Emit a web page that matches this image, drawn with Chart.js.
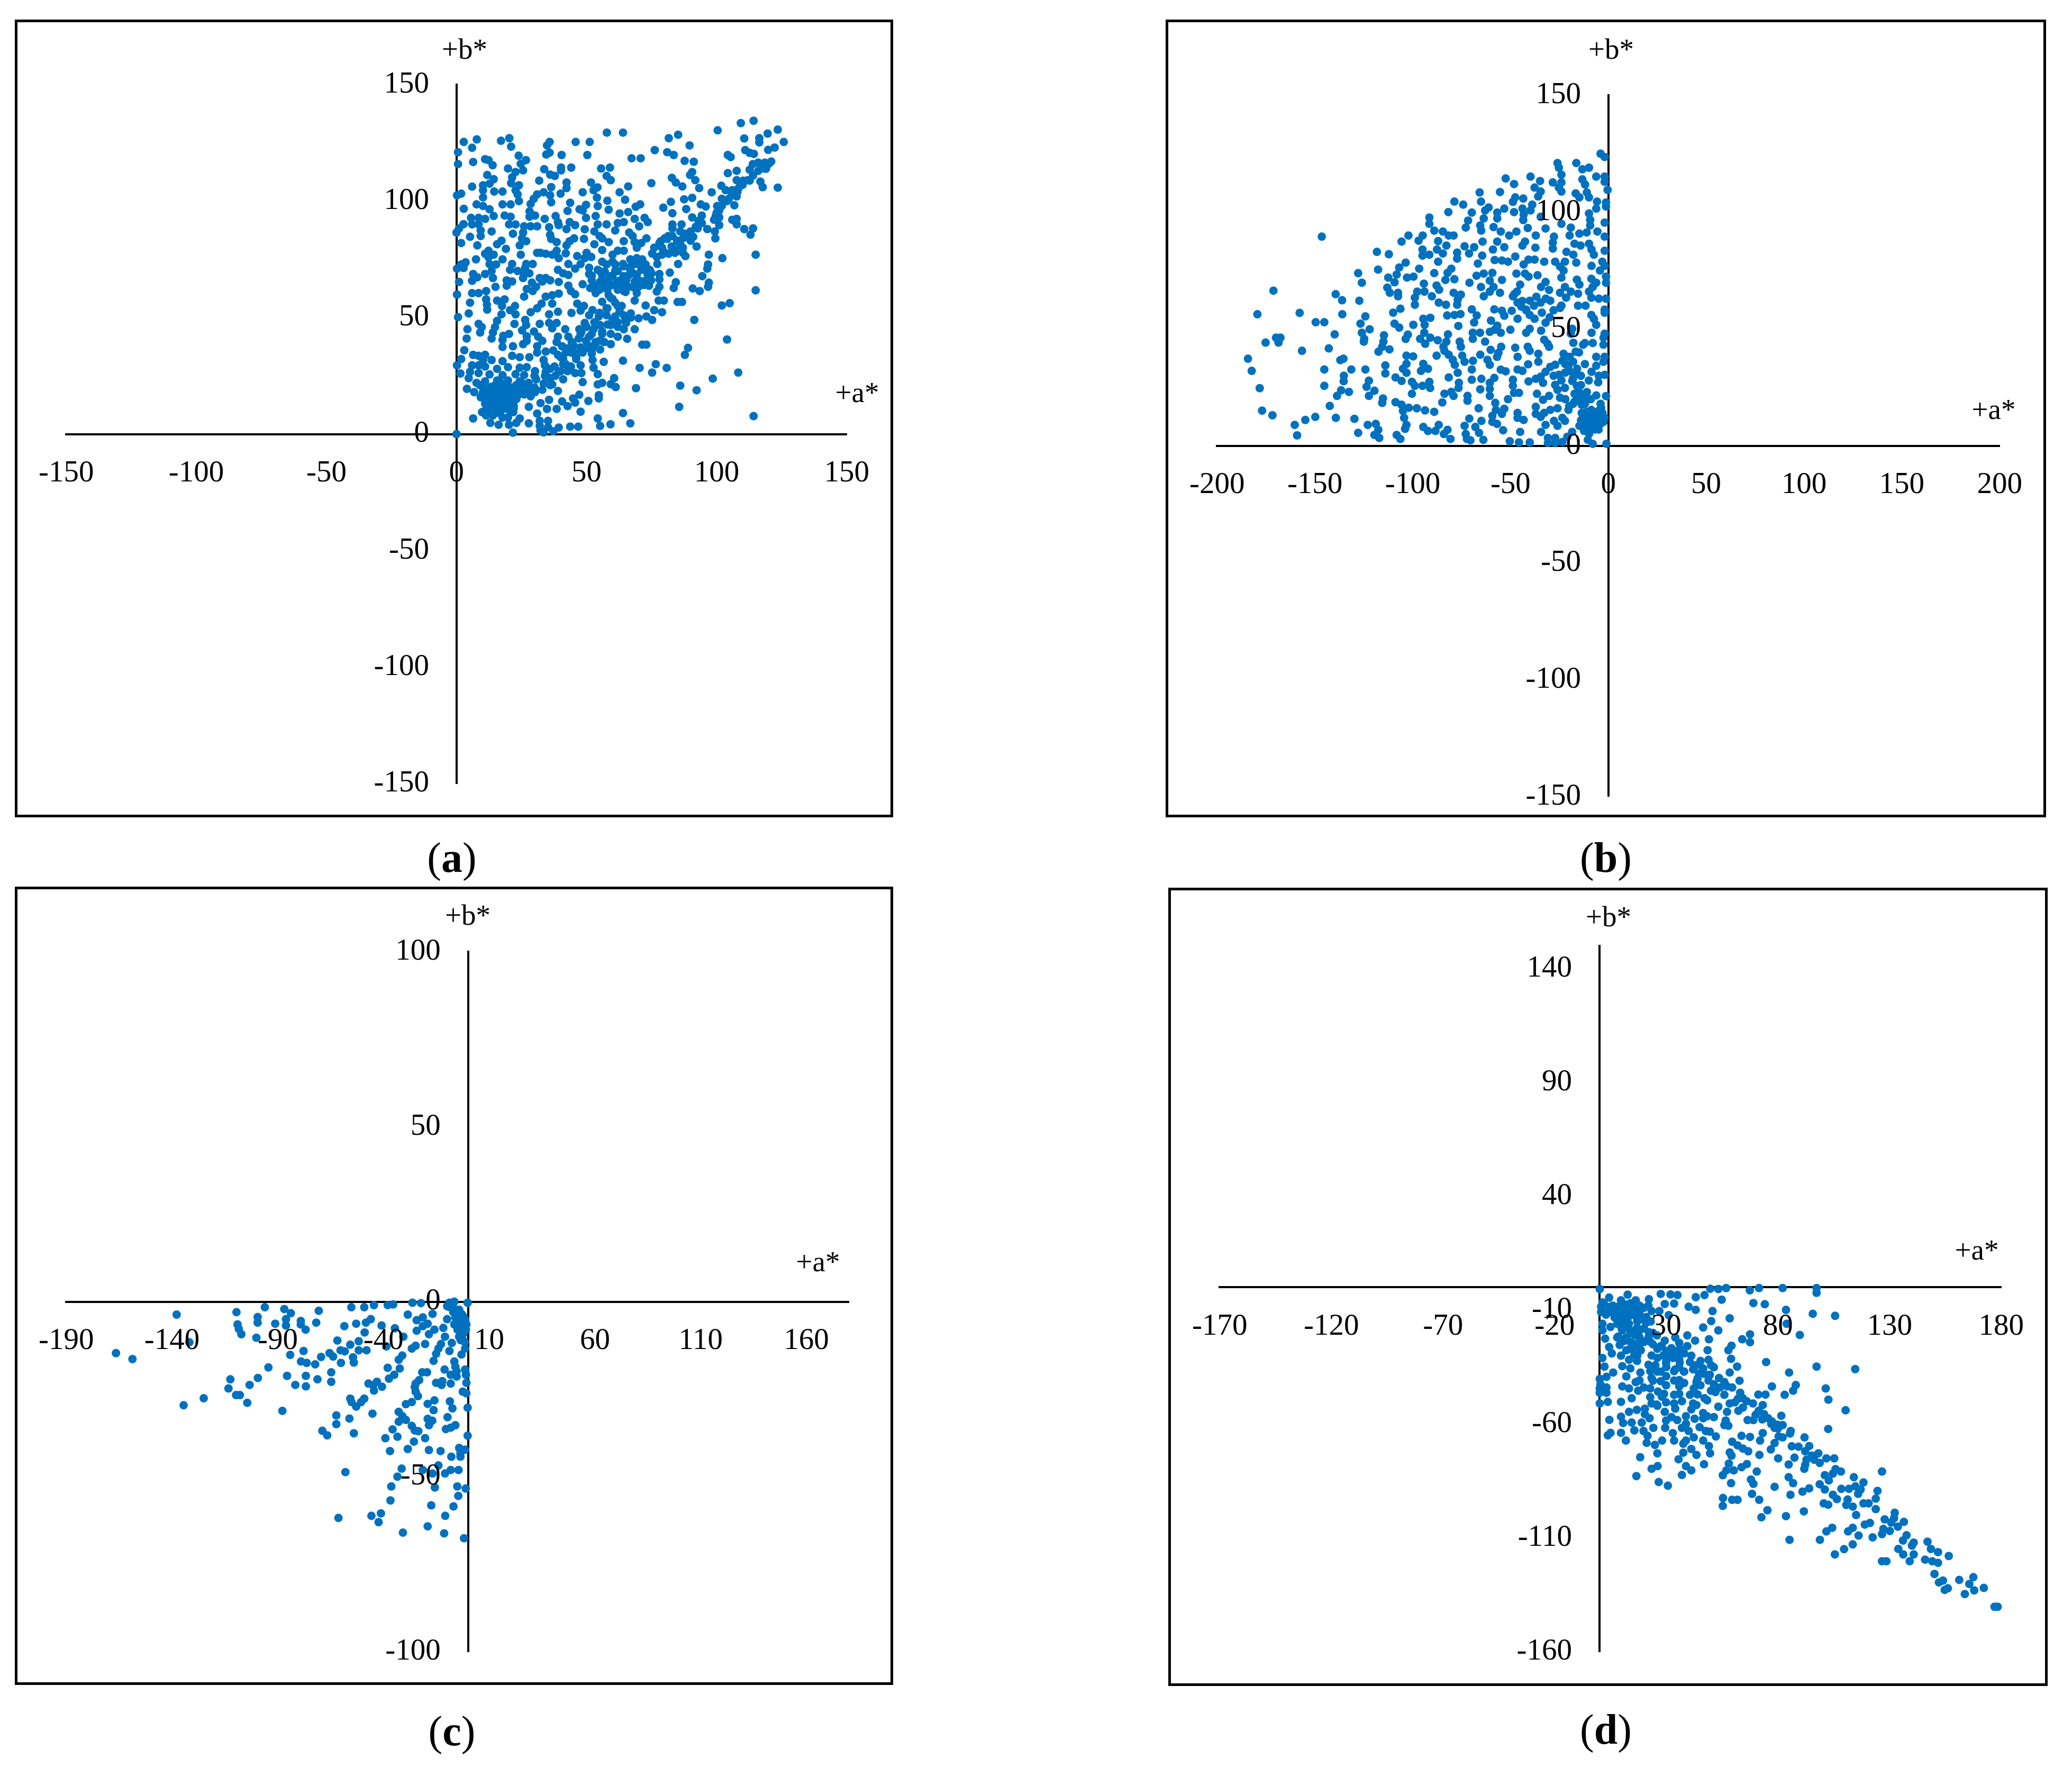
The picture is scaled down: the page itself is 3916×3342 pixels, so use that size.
<!DOCTYPE html>
<html>
<head>
<meta charset="utf-8">
<title>CIELAB a*b* scatter plots</title>
<script src="https://cdn.jsdelivr.net/npm/chart.js@4"></script>
<style>
  html, body { margin: 0; padding: 0; background: #fff; }
  #page { position: relative; width: 3916px; height: 3342px; background: #fff; overflow: hidden; font-family: "Liberation Serif", serif; color: #000; }
  .box { position: absolute; box-sizing: border-box; border: 5px solid #000; }
  canvas { position: absolute; left: 0; top: 0; }
  .lbl { position: absolute; transform: translate(-50%, -50%); white-space: nowrap; line-height: 1; }
</style>
</head>
<body>
<div id="page"></div>
<script>
// Tick labels of each panel
const aXTicks = [-150, -100, -50, 0, 50, 100, 150];
const aYTicks = [150, 100, 50, 0, -50, -100, -150];
const bXTicks = [-200, -150, -100, -50, 0, 50, 100, 150, 200];
const bYTicks = [150, 100, 50, 0, -50, -100, -150];
const cXTicks = [-190, -140, -90, -40, 10, 60, 110, 160];
const cYTicks = [100, 50, 0, -50, -100];
const dXTicks = [-170, -120, -70, -20, 30, 80, 130, 180];
const dYTicks = [140, 90, 40, -10, -60, -110, -160];

// Points as [a*, b*]
const aPoints = [[114.2,134.5],[109.3,133.5],[123.5,130.7],[100.4,130.4],[57.8,129.4],[64,129.4],[119.6,129],[110.6,126.9],[116.4,127],[85.2,128.5],[81.6,127],[7.8,126.5],[2.8,125.4],[20.3,127],[17.1,125.9],[35.8,125.4],[45.8,125.4],[51.2,125.4],[125.8,125.4],[116.4,125.2],[89.6,123.9],[21,123.4],[6,122.9],[34.8,123.9],[76.2,121.9],[122.3,123],[119.8,122],[111,121.9],[81,121],[83.5,119.8],[114.3,120.3],[112.7,120.7],[0.6,121],[35.8,120.8],[34.5,120],[40.4,119.8],[50.3,119.8],[23.9,119.5],[104.3,119.8],[105.4,118.9],[67.3,118.4],[70.8,118.4],[11,118],[12.3,117.6],[26.7,117.6],[87.7,117.3],[91.2,116.9],[6.4,116.8],[0.6,115.9],[121,117],[118.5,116.5],[116,116.5],[113.9,115.9],[13.9,115.4],[24.7,116],[19.8,114],[40.2,114.4],[44.1,114.4],[55.6,114],[59,114.4],[33.7,113.7],[112.7,113.5],[119,113.9],[25.6,113.2],[22.7,112.5],[107.7,113],[40.2,113.2],[104.3,112],[90.6,112.5],[11.8,111.2],[36,111.4],[37.8,110.8],[89.8,111.2],[57.7,110.8],[82.8,110],[21.4,110.2],[14.3,109.4],[59.3,109],[91.8,109],[84.3,108],[31.8,108.8],[42.3,108],[51.7,108],[74.9,107.7],[107.7,109],[110.2,108.8],[112.7,108.8],[116.8,108.4],[21,107.7],[10.2,106.8],[6,106.2],[12.7,107.5],[24,106.8],[86.8,106.3],[66,106.3],[36.4,106],[42.3,105.6],[54.2,105.9],[93.3,105.6],[117.7,106],[123.5,105.8],[101.8,106.6],[108.5,105.7],[10.2,104.7],[14.5,104.1],[17.7,104.1],[22.7,104.7],[31,102.9],[33.5,103.8],[48.5,103.8],[52.7,104.7],[62.7,103.8],[98.1,103.8],[103.5,104.7],[106,104.7],[40,103.2],[1.8,103.2],[0.2,102.5],[36,102.5],[23.5,102.9],[107.7,102],[10.2,101.6],[29.7,101],[54,101.5],[90.6,101.4],[87.5,100.8],[64.8,100.6],[58,100.2],[102,101],[104.7,101],[82.4,99.7],[24,100],[36.4,99.5],[43.7,99.3],[7.7,98.6],[17.7,98.6],[20.8,98.6],[28.5,98.8],[10.2,97.9],[70.6,98.6],[49.8,98.4],[93.9,98.6],[95.8,97.7],[54.3,97.9],[106.8,98.2],[100.2,97.9],[68.9,97.6],[79.5,97.2],[2.8,96.7],[12.7,96.5],[47.3,96.5],[48.5,96],[58.5,96.3],[88.3,96.6],[101,96],[42.7,95.8],[28.1,95.6],[66,95.3],[62.7,94.7],[83,94.8],[99.7,93.8],[14.3,93.6],[18.5,93.8],[20.8,93.3],[30.2,93.8],[38.1,93.6],[28.1,93.3],[49.8,92.8],[53.5,93.6],[90.6,93],[94.3,93.8],[72.3,92.8],[107.7,92.4],[106,92],[68.5,92.4],[5.6,92.8],[8.5,92.8],[11,92.4],[33.9,92.4],[93.1,91.5],
[2.7,90.1],[1,88.3],[0,86.5],[6,90],[8.5,90],[9.3,87.4],[13.5,87],[9.3,85],[5.2,84.7],[20.2,90],[22.7,90],[26,89.2],[28.5,89.2],[31,89.2],[35.6,88.8],[39,91],[39.3,89.7],[42.3,88],[43.5,91],[45.6,89.7],[49.3,87.9],[54.3,90],[57.7,90],[62,90.6],[64.3,91],[73.5,91],[70.2,89.2],[61,87.4],[53,87],[83,90],[86.5,90],[83,88.3],[94.3,90.6],[96.4,88],[101,89.7],[99.3,87],[89.3,86],[86,87],[92.7,88.3],[107.7,90],[110.6,88],[114,88.3],[113,85.6],[81.4,85],[66.4,86.5],[25.6,86.5],[21.7,86],[36,85.5],[55,85],
[78.5,82.8],[81,83.8],[84.8,82.8],[87.2,84.2],[91,84.7],[99.5,84],[45.2,84],[49,83.8],[36.4,83.8],[38.5,82.4],[43.5,82.8],[25.2,84],[26.8,82.8],[17.3,83],[15.6,81.5],[1.8,82],[8,81],[24.3,81],[42.3,81],[53,81.5],[56,84],[58.5,82.4],[64.3,82.8],[67.7,85],[68.5,82.4],[71,82],[73,84],[69.3,80],[79,80],[82.7,80.5],[86,81.5],[92.3,80.5],[19,79.5],[12.3,78.7],[32.3,77.8],[34.3,77.4],[38.5,78.7],[42,77.6],[56,79],[62,78.7],[64.3,78.7],[60,77],[75.2,77.5],[87,77.8],[97,77],[79,77],[81.5,77.4],[84,77.8],[24.7,77],[14.3,77],[11,77.4],[31,77.8],[36.8,77],[50,77.8],[46.4,76.4],
[7.5,75],[12.3,75.9],[115,77],[102.2,75.5],[88,76.4],[17.7,75],[66.8,75],[69.3,75.5],[71.4,75],[39.3,75.5],[49.3,75.5],[51.8,76],[12.7,73],[3.5,73.7],[1.8,72.8],[29.3,73],[26.8,73],[21.4,73],[43,73],[47.7,73],[57.7,72.8],[61,72.8],[64.3,72],[68.5,73],[72.7,72.8],[77.2,73],[85.2,73],[96.7,72.8],[15.2,72.8],[0.2,71],[2.7,71.3],[13.5,70],[20.6,70.5],[23.5,70],[26.4,71.4],[39,70.5],[45.6,71],[51,71.4],[54.3,70.5],[57,69.7],[61,70],[66.8,70.5],[71,70.5],[74.3,70.5],[78,68.7],[96.4,71],[82,69.3],[11,68.7],[26,68.7],[28,69],[6.4,68.7],[41,69],[43,68.3],[51,68.7],[56,68.3],[59.3,67.8],[64.3,67.8],[69.3,68.3],[73.5,68.3],
[14,67],[8,67.3],[6,65.8],[1,65.3],[19.3,66],[21.4,65.5],[25.6,67],[32,67],[34.3,67],[36,66],[39.3,65.3],[52,66],[55.3,65.5],[58.5,66],[61.8,65.5],[65.2,66],[68.5,65.5],[71.8,65.5],[74.8,66],[94.5,67.8],[78,66.4],[84.3,65.2],[97,65],[29,65],[33,65.5],[43,63.7],[48.5,64.3],[19.3,63.7],[15,63.2],[30.6,63.2],[27,62.3],[51.4,62.7],[57.3,63.2],[62,62.7],[66,63.2],[70,63.2],[74,63.7],[78,63.2],[83.5,62.7],[90.8,62.5],[96.7,63.2],[93.5,61.4],[115,61.7],[6,60.5],[11.4,61.4],[8.5,60.5],[0.2,59.9],[29.3,61.4],[39.3,60.3],[44,61.4],[53.5,60.5],[58.5,59.6],[64.3,61.4],[69.3,60.5],[77,61.2],
[26,59],[34.3,59],[36.8,59.6],[45.6,60],[5.2,56.4],[11.4,57.8],[15.6,57.3],[18.5,57.8],[17.5,55],[11.7,55.5],[11.8,53.4],[36.8,56],[32.7,56],[46.4,56],[49,55],[56,56.8],[59.3,58.4],[61,56.4],[68.5,57.3],[72.7,55.2],[77.7,57.3],[79.7,57.3],[85,56.7],[86.7,56.7],[102,55.2],[105,56.2],[22.5,55],[20.6,53.2],[22.7,51.4],[31,54],[28.5,52.3],[35.6,51.4],[39,52.5],[44.2,52],[47.7,53],[52.3,53.2],[57.7,54],[63.5,55],[62.7,52.7],[57.7,51],[67,51.8],[76,53.2],[79,52.3],[4.7,51.8],[0.6,50.2],[17.3,51.4],[51,51],[54.7,50.5],[61,50.5],[64.3,51],[70,49.7],[73,50.5],[75.2,49],[91.4,49],
[15.6,48.6],[26.4,49],[26.8,46.8],[22.3,47.3],[32,47.3],[35.6,47.7],[38.5,47.7],[8.5,47.3],[14.8,45.9],[9.7,45.9],[4.2,45],[36.8,45.4],[49.3,47.7],[47.2,45],[55.2,46.8],[52.7,45],[59.3,46.8],[65.2,47.7],[64.3,45],[68.5,45],[41.8,45],[25.2,44.5],[29.8,44],[9.1,43.6],[14,43.6],[20.2,43],[18,42.2],[27,42],[31.4,41.8],[39,41.8],[43,41.8],[47.7,43],[51,41.8],[56,43],[59.3,43],[62,41.8],[3.9,41],[13.5,41],[17.7,40.4],[27,40],[65.6,40.9],[104,40.6],
[33,40],[38.5,39.5],[44.3,39.5],[49.8,40],[53.5,39.5],[56.8,39.5],[59.3,38.6],[71.4,38.4],[73,38.4],[17.7,37.4],[21.7,37.7],[25.6,38.6],[31,37.7],[40.6,37.7],[42.7,36.8],[47.7,37.2],[51,37.7],[55.2,36.3],[89,37],[3,36],[34.3,35.4],[37.2,35.9],[31,35],[45.2,35],[48.5,35],[52,34.5],[6.4,34],[11,34],[8.5,33.6],[87.8,34],[21.4,33.6],[24.3,33],[28,33],[1.8,32.2],[10.2,31.8],[13.5,31.8],[17.7,31.3],[33.5,31.8],[41,32.2],[46,32.2],[52.3,31.8],[56.6,31],[64,31.5],
[76.6,30],[0.2,29.5],[6,29.5],[8.5,29.5],[11,29],[34,29.5],[37.7,29],[41,30],[47.7,29.5],[19.8,28.7],[24.3,28.5],[27,28.7],[15.6,28],[70.4,28.4],[80.8,28.4],[52.7,28.5],[30.2,27],[39.3,26.7],[42.7,27],[34.3,26.7],[5.2,26.7],[8.5,26.2],[1.5,26],[75.2,26.4],[108.3,26.4],[45.6,26.2],[48,26.2],[54.3,25.7],[12.7,25.6],[17.7,25.3],[22.7,25.7],[26,25.3],[4.7,24],[98.5,23.8],[60.6,24],[30.6,23.5],[36,24],[41,23.5],[15.6,23],[19.8,23],[11,22.6],[7.7,22],[24.3,22.6],[27.7,22],[48.5,22.3],[54.3,21.3],[56,22],[59.3,21.4],[86,20.8],[33.5,21.7],[36.8,21.3],[4,19.4],[13.5,20.3],[17.7,20.3],[22,19.9],[26.4,19.9],[29.3,19.9],[61.2,20.2],[69,19.7],[39,18.5],[92.3,18.8],[6.8,18],[10.2,18],[14.8,17.6],[19,17.6],[22.7,18],[30.2,18],
[54.7,16.7],[54.7,15.3],[47.2,16.9],[9.3,15.8],[12.7,15.3],[17,15.3],[21,15.8],[28.5,16.2],[44.8,15.3],[35.6,14.7],[40.6,14],[50.7,14.2],[32.3,13.3],[11,13],[15.2,13],[19.3,13.5],[21.8,13.5],[45.6,13.5],[42.7,12],[27.8,11.7],[85.6,11.7],[12.2,10.8],[18,10.8],[34.8,10.8],[38.5,10.8],[9.8,9.4],[13.5,9],[21.8,9.4],[16.4,9],[31,8.8],[47.7,9.6],[64,9],[11.4,8],[6.4,6.7],[17.7,7.1],[19.8,7.1],[114.2,7.7],[13,4.8],[24.3,6.7],[54.3,6.7],[23,4.8],[32,5.7],[35.2,5.7],[16.2,4],[20.2,4],[27.8,4.6],[59.2,4.2],[66.8,4.6],[55.2,3.5],[32,3.5],[35.2,3],[39.3,2.8],[43.7,3.2],[46.8,3.2],[32.3,1.6],[33.5,0.7],[37.2,1.2],[21.7,0.6],[0,0],
[9,21],[11,19],[13,20],[15,21],[17,22],[19,21],[21,20],[23,21],[10,17],[12,17],[14,18],[16,18],[18,18],[20,18],[22,17],[24,17],[11,15],[13,16],[15,16],[17,14],[19,15],[21,15],[23,15],[12,13],[14,14],[16,12],[18,12],[20,13],[22,12],[13,11],[15,10],[17,10],[20,10.5],[22,11],[14,8],[11,10],[25,22],[27,20],[28,18],[30,20],[33,19],[24,19],[26,17],
[52,68],[55,70],[58,66],[60,68],[62,70],[64,64],[66,68],[68,63],[70,66],[72,64],[55,62],[58,62],[62,62],[65,61],[67,72],[56,74],[60,74],[64,73],[70,73],[73,70],[75,69],[53,64],[60,64],[63,66],[68,69],
[40,33],[44,35],[48,36],[36,28],[42,30],[46,33],[50,37],[53,38],[56,44],[58,47],[60,49],[62,48],[52,43],[48,44],[54,47],[38,25],[34,25],[30,25],[36,21],[40,27],[44,29],
[76,80],[78,82],[80,84],[83,85],[85,83],[88,86],[90,87],[92,89],[94,91],[90,83],[87,80],[84,79],[80,78],[77,76],[100,95],[102,98],[99,92],[101,93],[104,100],[106,103],[108,104],[110,107],[112,109],[114,111],[118,114],[120,116],[116,113],[60,58],[62,55],[58,54],[55,52],[53,48],[50,46],[47,41],[45,38],[42,35],[39,34],[62,46],[65,49],[67,50],[55,40],[52,36]];

const bPoints = [[-4,125],[-1.9,123.6],[-26,121],[-16.4,121],[-25.3,119],[-9.9,119],[-13.3,118.3],[-24,116],[-39.8,115.2],[-6.2,115.2],[-1.9,115.2],[-52.5,114.4],[-13.3,114],[-1.9,113],[-34.9,113.3],[-28.4,112.7],[-24,112.7],[-48.2,112],[-11.9,111.8],[-37.7,110.5],[-25.3,110.5],[-0.4,109.5],[-24,108.8],[-34.6,108.8],[-65.8,108.4],[-55.4,108.6],[-11,108.4],[-16.7,108],[-35.9,106.7],[-47.6,106.3],[-43.5,105.8],[-14.8,106.3],[-9.9,106.3],[-65.1,104.5],[-48.8,104.4],[-78.7,104.5],[-5.8,104.5],[-74.2,103.2],[-1.2,104.1],[-38.9,103.2],[-61.2,102],[-1.2,102.4],[-6.2,101.5],[-43.9,101.5],[-53.2,101.5],[-39.8,100.7],[-63,100.7],[-69.8,99.8],[-48.2,100],[-81.8,100],[-56.8,99.8],[-9.9,99.4],[-56.8,97.3],[-43.3,99],[-91.5,97.7],[-34.6,98],[-63.7,97.3],[-43.5,96.6],[-71.7,96.4],[-9.3,96.7],[-1.9,95.5],[-91.5,95],[-24,95],[-65.5,94.3],[-9.3,94.3],[-72.9,93.4],[-58.7,93.6],[-41.2,93.2],[-32.1,93],[-19.2,93.4],[-65,92.1],[-89,92.1],[-84.6,91.7],[-47,91.7],[-55,91.7],[-14.8,90.8],[-11.1,91.3],[-5.6,91.7],[-79.1,90],[-81.6,90],[-102.2,90],[-94.9,90],[-50.7,90],[-37.1,90],[-146.5,89.5],[-19.8,90],[-1.9,89.5],[-87,87.6],[-97,87.8],[-27.8,89.5],[-105.7,87.4],[-64.3,87.4],[-56.8,87.4],[-42.6,87.4],[-28.4,87],[-17.3,86.5],[-9.9,86.5],[-82.8,85.7],[-73.5,85.4],[-68.6,85],[-53.2,85],[-37.3,84.8],[-43.9,85.7],[-14.2,85.7],[-28.4,84.4],[-95,84],[-87.6,84],[-77.3,82.7],[-59,84],[-71.2,82.3],[-21.4,83],[-8.6,84],[-1.9,83.5],[-118.3,83],[-112.2,82],[-95,81.4],[-91.5,81.8],[-84.6,82.3],[-64.5,81.4],[-17.9,81.8],[-7.4,81.8],[-77.3,80.1],[-58.1,79.5],[-54.4,79.3],[-51.3,78.8],[-47.6,81],[-40.8,79.7],[-37.7,79.7],[-32.8,78.8],[-27.2,78.8],[-22.2,78.8],[-3.1,78.8],[-103.6,78.4],[-87,78.8],[-66.7,78],[-16.4,78.4],[-43.3,77.6],[-8.6,77],[-24.7,76.7],[-1.9,77],[-106.9,76.3],[-96.7,75.8],[-80.3,75.8],[-117.7,75.4],[-4.3,75],[-22.9,75],[-59.3,74],[-89,73.9],[-127.9,73.9],[-47,73.7],[-82.2,74],[-42.6,73.7],[-108.2,73.3],[-36.2,73],[-40.8,72.4],[-63.7,73.7],[-67.4,72.8],[-112.5,72],[-102.9,72],[-99.6,72.4],[-1.2,72.4],[-24,72],[-78.7,71.3],[-54.4,71],[-8.7,71.5],[-16.1,71.1],[-83.3,71],[-126,69.8],[-109.3,70],[-71,69.8],[-60.6,70.7],[-1.2,69.8],[-32.1,70.1],[-94.3,69.4],[-6.2,69.8],[-45.1,69],[-87.8,68.6],[-14.8,69],[-65.1,68],[-58.7,68],[-113,67.7],[-34.4,68],[-22.2,68],[-8,68],[-171.2,66.4],[-86.5,66.8],[-97.7,66],[-60.6,66],[-111.7,65.5],[-107.5,65.5],[-94,66],[-46.7,66],[-30.3,66.7],[-24.7,65.5],[-19.2,66],[-9.9,66],[-79.1,65.5],[-75.4,64.7],[-55.4,65.5],[-139.4,64.9],[-90.2,64],[-63.7,64],[-48.8,64],[-36.8,63.8],[-107.5,64],[-98.9,63.4],[-15.5,65.1],[-21.6,63.4],[-4.9,63],[-1.2,63],[-127.3,62.1],[-136.1,62.3],[-77,62.6],[-40.2,62.1],[-29.7,62.1],[-8.7,63.4],[-86.7,61.3],[-83,60.4],[-98.9,60.4],[-77.3,60.4],[-46.4,61.3],[-34.6,61.3],[-15.5,60],[-11.7,60],[-44.5,59.6],[-24.7,59],[-69.8,58.4],[-58.3,58.4],[-54.4,57.8],[-49.4,57.8],[-42,58.3],[-106.3,58.7],[-1.9,58.3],[-157.8,56.9],[-110,57],[-179.4,56.3],[-136,56.3],[-40.2,56],[-82.4,55.8],[-78.7,56],[-75.6,56.4],[-67.3,55.8],[-53.2,55.7],[-46.4,54.4],[-1.9,57],[-124.2,55.4],[-91,54.8],[-94.6,54.4],[-37.7,54.4],[-8.7,56],[-7.4,54.4],[-149.6,52.9],[-145.2,52.9],[-68.6,52.8],[-60,53.6],[-126.7,52.3],[-109.3,52.3],[-32.1,52.7],[-99.7,51.8],[-93.9,51.8],[-6.2,51.8],[-56.8,51.4],[-76.7,51.3],[-106.9,50.6],[-40.2,50.1],[-50.1,49.7],[-34.4,49.3],[-58.1,49.7],[-18.5,50.1],[-122,49.9],[-60.6,48.8],[-69.3,48.4],[-65.6,48.4],[-94.1,48.4],[-42,48.4],[-1.9,48],[-126,48.4],[-55,48.4],[-114.7,47.3],[-102.5,47.6],[-139.9,47.7],[-82,47.7],[-169.9,46.3],[-167.6,46.3],[-8.6,48.4],[-19.2,48],[-103.6,45.8],[-96.2,45.8],[-91,46.3],[-69.3,45.8],[-63,44.6],[-32.8,45.4],[-124.8,45.8],[-2.5,46.3],[-175.2,44.2],[-168.6,44.2],[-125,44.6],[-87.2,45.2],[-82.8,44.6],[-76,44.6],[-93.6,43.7],[-115,44.6],[-17.9,44.1],[-12.9,43.3],[-8,44],[-2.5,43.3],[-31.1,43.7],[-115.6,42.4],[-75.4,42.4],[-84.3,42.4],[-142.9,41.7],[-30.3,42.4],[-54.8,42.4],[-111.9,41.3],[-47.6,42],[-41.2,42.4],[-156.6,40.7],[-60.2,41.1],[-117.5,40.3],[-83.8,40.7],[-56.2,39.8],[-40.2,40.7],[-16.7,40.3],[-22.9,39.4],[-35.8,39.4],[-103.2,38.6],[-99.8,38.3],[-87.8,38.6],[-81.6,39],[-74.7,38.6],[-65.5,39],[-46.4,38.1],[-19.8,38.1],[-6.2,38.1],[-1.9,38.1],[-184.2,37.3],[-135.4,37.3],[-137,36.7],[-79.5,36.8],[-61.8,36.8],[-56.9,38.1],[-73.5,36],[-69.2,36.4],[-35.8,36],[-23.5,36.4],[-2.5,36],[-103.2,35.1],[-94.6,35.1],[-78.5,34.7],[-60.6,34.7],[-41,34.9],[-27.2,34.7],[-6.2,34.3],[-20.4,34.3],[-114,34.4],[-182.3,32.1],[-145.2,32.7],[-131.4,32.7],[-124.2,32.7],[-105,33],[-92.2,33],[-69.8,32.7],[-55,32.6],[-52.5,31.9],[-46.4,32.7],[-43.9,32.1],[-29.7,33.8],[-114,31],[-95.8,32.1],[-103.2,31.3],[-77,31.3],[-32.1,31.7],[-22.2,31.3],[-8.6,31.7],[-16.1,30.8],[-1.9,30.4],[-135.2,30],[-108.8,29.3],[-81.6,29.3],[-64.9,28.7],[-58.3,29.1],[-34.6,29.6],[-25.3,30.4],[-4.9,30],[-105.7,27.8],[-122.4,27.9],[-69.8,28.3],[-48.8,28.3],[-100.4,27.4],[-91.5,27.4],[-40.8,27.6],[-37.1,28.7],[-18.5,27.8],[-135.3,27.7],[-60.6,27],[-5.2,27.2],[-76.4,27],[-33.4,27],[-145.2,25.7],[-27.2,26.1],[-123.6,25.3],[-48.8,25.7],[-98.9,25.7],[-95,25.7],[-91.1,24.8],[-76.6,24.8],[-178.2,24.7],[-65.5,24.2],[-60.6,24.4],[-22.2,24.8],[-16.1,25.7],[-119.6,23.6],[-136.6,23.8],[-132.6,23.1],[-100.4,22.3],[-80.3,23.1],[-83.8,22.3],[-48.2,22.7],[-45.7,22.7],[-36.5,22.3],[-17.3,22.3],[-12.4,21.9],[-1.2,21.3],[-6.2,21.6],[-138.7,21.4],[-122.4,21.4],[-79.1,21.4],[-72,21.4],[-60.6,21.4],[-30.3,21.4],[-24.7,20.6],[-115.2,20.3],[-72,19.3],[-51.3,20],[-33.4,19.7],[-115.6,18.4],[-17.3,18.9],[-108.8,18.7],[-84.9,18.6],[-57.8,18.4],[-13.6,17.6],[-37.1,16.7],[-142.4,17.1],[-105.7,17.6],[-29.7,15.4],[-26,16.1],[-20.4,15.4],[-8.7,15.4],[-3.7,16.3],[-102,16.3],[-97.9,16.1],[-93.7,15.2],[-89,14.6],[-66.3,16.1],[-53.2,15.9],[-57.5,15.4],[-177,15.1],[-105,15],[-46.4,14.1],[-37.1,13.7],[-32.8,14.1],[-13.6,14.1],[-11.1,14.6],[-7.4,14.1],[-3.7,14.6],[-54.4,13.7],[-171.7,13.1],[-149.8,12.4],[-154.9,11.1],[-139.3,12],[-129.8,11.6],[-104.4,12],[-59.3,12.9],[-71.1,11.7],[-46.4,12],[-43.3,11.1],[-34.6,12.4],[-12.4,12],[-8.7,12.4],[-5,12.4],[-23.5,12],[-64.9,10.7],[-59.3,10.3],[-27.8,10.7],[-22.2,10.7],[-11.1,10.3],[-6.2,10.3],[-2.5,10.3],[-160.3,9],[-123,9],[-118.9,9.4],[-103.2,9],[-94.6,8.1],[-86.7,9],[-73.5,8.6],[-68,8.1],[-56.9,9.4],[-32.1,9],[-14.8,8.6],[-8.7,8.1],[-4.9,9],[-26,8.6],[-117.6,6.9],[-103.9,7.3],[-92.2,6.4],[-88.4,6.4],[-82.2,6.9],[-53.8,6.7],[-45.1,6],[-34.4,6],[-12.4,6.4],[-18.5,6],[-127.9,5.6],[-108.2,4.7],[-84.1,5.1],[-72.9,5.1],[-66.1,5.6],[-159.1,4.5],[-9.9,5.1],[-119.6,4.7],[-117.1,3.4],[-106.3,3],[-80.7,3],[-72.3,3],[-70.5,2.4],[-63.9,2.6],[-30.9,3.4],[-27.2,3.4],[-21,3.9],[-50.4,2],[-45.7,1.5],[-40.2,1.5],[-30.9,1.3],[-27.2,1.3],[-23.5,1.7],[-10.5,2.6],[-8,0.9],[-1,0.9],
[-12,9],[-10,10],[-8,9.5],[-6,9],[-4,9.5],[-12,12],[-10,13],[-8,12],[-6,13],[-4,12],[-3,14],[-14,11],[-9,14],[-5,15],[-2,12],[-10,7],[-7,7],[-5,7],[-18,18],[-16,20],[-15,23],[-14,26],[-12,18],[-20,17],[-22,20],[-18,29],[-11,23],[-9,20],[-13,20],[-4,18],
[-15,40],[-12,35],[-18,36],[-20,32],[-14,30],[-10,28],[-26,24],[-24,28],[-28,30],[-22,35],[-12,44],[-16,33],[-30,55],[-34,57],[-38,60],[-42,58],[-28,58],[-24,60],[-44,62],[-48,65],[-32,63]];

const cPoints = [[-137.8,-3.7],[-109.5,-3],[-96.1,-1.6],[-86.9,-2.1],[-83.8,-3.3],[-70.6,-2.6],[-55.2,-1.6],[-49.1,-1.6],[-44.5,-1],[-38,-1],[-35.4,-0.8],[-26.3,-0.3],[-22.3,-0.4],[-8.8,-0.3],[-6.5,0],[-0.2,-0.3],[-9.9,-1.3],[-7.1,-1.5],[-4.2,-2.3],[-6,-2.8],[-16.8,-3.5],[-28.5,-3.7],[-3.1,-3.5],[-99.5,-4.4],[-99.5,-6],[-46,-5],[-86.1,-5],[-21.4,-4.5],[-24.3,-5.3],[-9.9,-5],[-4.2,-4.8],[-1.4,-5],[-79.1,-5.5],[-71.8,-6],[-48.3,-6],[-91.2,-6.3],[-86.1,-6.8],[-52.9,-6.3],[-19.1,-6.3],[-109,-6.5],[-3.1,-6],[-0.8,-6.5],[-79.1,-6.5],[-40.9,-6.8],[-58.5,-7],[-21.4,-7],[-11.7,-7.5],[-108.4,-7.8],[-76.8,-8],[-34.6,-7.6],[-48.9,-8.8],[-24.3,-8.3],[-15.9,-8],[-4.2,-7.6],[-1.4,-7.8],[-107.2,-9.3],[-18.5,-9.3],[-2.5,-9.3],[-30.6,-10],[-100.1,-10.3],[-10.9,-10],[-4.2,-10],[-61.8,-11.1],[-131.8,-11.6],[-51.7,-11.3],[-2.5,-11.1],[-20.3,-12.1],[-55.7,-12.3],[-12.8,-12.1],[-24.8,-12.6],[-38.6,-12.8],[-7.7,-11.8],[-26.6,-13.4],[-14,-13.4],[-51.7,-13.9],[-48,-13.9],[-60.3,-13.9],[-166.5,-14.7],[-158.7,-16.4],[-77.8,-14.1],[-58.3,-14.2],[-1.4,-13.4],[-8.8,-14.1],[-65.5,-14.7],[-84.1,-15.2],[-15.1,-14.9],[-3.1,-15.1],[-31.1,-15.4],[-54.4,-15.9],[-69.5,-15.8],[-63.8,-15.7],[-16.3,-16.9],[-32.8,-16.6],[-6.5,-17.1],[-79,-17.1],[-76.3,-17.5],[-54,-17.4],[-72.3,-17.9],[-60.1,-17.5],[-6,-18.6],[-94.4,-18.8],[-38,-18.9],[-32.3,-19.1],[-11.1,-19.4],[-1.4,-19.4],[-64.7,-20.2],[-21.7,-20.2],[-19.4,-20.2],[-5.4,-19.9],[-1,-20.9],[-34.9,-20.9],[-5.4,-21.4],[-85.6,-21.2],[-76.7,-21.2],[-8.2,-20.9],[-99.4,-21.8],[-37.4,-22],[-71.2,-22.2],[-112.4,-22.2],[-23.1,-22.4],[-64.7,-22.9],[-15.1,-23.2],[-12.2,-22.7],[-12.5,-23.8],[-43.1,-22.9],[-47.1,-23.4],[-24.8,-23.4],[-8.2,-23.4],[-0.8,-23.2],[-103.3,-23.8],[-81.7,-23.8],[-76.7,-24.2],[-44.9,-23.9],[-40.7,-24.3],[-25.2,-24.4],[-113.3,-24.8],[-44.5,-25.4],[-24.8,-25.7],[-2.5,-25.7],[-0.8,-26.2],[-109.7,-26.7],[-107.9,-26.7],[-23.7,-27],[-125,-27.6],[-55.7,-27.7],[-49.1,-27.7],[-15.9,-28.2],[-8.6,-28.5],[-26.6,-28.7],[-55.1,-28.7],[-50.6,-28.7],[-104.4,-28.9],[-29.4,-29.3],[-19.1,-29.2],[-134.5,-29.6],[-52.9,-30],[-7.4,-30.5],[-0.2,-30.3],[-16.3,-31],[-87.8,-31.2],[-32.8,-31.5],[-45.2,-32],[-62.3,-32.5],[-9.7,-33],[-31.1,-32.7],[-19.1,-33.5],[-56.1,-33.4],[-29.4,-33.8],[-16.9,-34],[-32.8,-34.3],[-62.3,-35],[-18.5,-35.3],[-6,-35.3],[-26.6,-35.5],[-8.2,-36],[-10.5,-36.4],[-35.7,-36.5],[-68.9,-36.9],[-25.2,-36.8],[-23.5,-37],[-54,-37.6],[-66.6,-38.2],[-0.2,-38.3],[-33.4,-38.6],[-39.1,-39],[-20.3,-39],[-25.6,-40],[-4.2,-41.8],[-1.4,-42.3],[-28.5,-42.1],[-18.5,-42.4],[-13,-42.7],[-36.9,-42.7],[-3.6,-43.3],[-7.9,-44.3],[-3.6,-44.3],[-14,-46.8],[-31.4,-47.7],[-21.4,-48.1],[-8.2,-48.1],[-4.5,-48.1],[-58,-48.7],[-10.9,-49.1],[-16.8,-49.1],[-33.4,-50],[-5.1,-52.8],[-36.3,-52.8],[-15.7,-53.1],[-1.1,-53.4],[-4.6,-55.5],[-36.7,-56.8],[-17.4,-58.2],[-6.9,-58.5],[-41.2,-60.5],[-45.7,-61.2],[-10.8,-61.2],[-61.3,-61.8],[-42.3,-63],[-19.1,-64.2],[-30.8,-66],[-11.3,-66.2],[-1.9,-67.6],
[-9,-1.5],[-7,-3],[-6,-4.5],[-5,-3.5],[-3,-5],[-2,-7],[-4,-6.5],[-5,-8],[-2,-9],[-3.5,-11],[-1.5,-11.5],[-4.5,-5.5],[-2.5,-4],[-1,-8],[-6.5,-6.5]];

const dPoints = [[0.2,-0.7],[49.7,-0.6],[53.3,-0.7],[56.8,-0.3],[67.4,-1.3],[71.5,-0.3],[82.1,-0.3],[97.3,-0.3],[97.3,-2.4],[27.5,-2.9],[31.9,-3.1],[35,-3.4],[12.7,-3.2],[47.1,-3.4],[43.2,-4.3],[4.4,-4.5],[22.2,-5.2],[54.8,-5.4],[9.7,-5.7],[16.3,-5.7],[1.4,-6.6],[69,-6.9],[74.1,-7.4],[29.3,-7.3],[33.5,-7.1],[12.1,-7.6],[0.8,-8.5],[5,-8.5],[18,-8],[8.5,-8.5],[40,-8.5],[83.6,-9.9],[43.2,-9.9],[50.7,-10.4],[14.5,-9.4],[23.4,-10.4],[26.9,-10.4],[0.8,-10.8],[3.8,-10.4],[10.3,-10.8],[18,-10.8],[95.6,-11.6],[105.6,-12.5],[31.1,-12.2],[12.7,-12.7],[6.8,-13.2],[58.4,-13.6],[16.9,-13.6],[50.1,-14.8],[83.9,-16],[9.7,-15],[21,-15.5],[1.4,-16],[13.3,-16],[5,-17.4],[46.5,-17.6],[16.9,-17.8],[1.4,-18.8],[10.3,-18.8],[53.3,-18.9],[22.2,-19.7],[13.9,-20.2],[89.8,-20.9],[67.5,-20.6],[39.4,-21.1],[25.8,-21.1],[8.5,-21.6],[18,-22],[2.6,-22.5],[64,-22.8],[49.1,-22.8],[42.9,-23.4],[11.5,-23.4],[29.3,-23.4],[22.8,-23.9],[67.5,-24.1],[35.8,-24.4],[15.7,-24.8],[9.1,-25.3],[4.4,-26.2],[59.2,-25.6],[39.4,-25.8],[27.5,-25.8],[32.3,-26.7],[57.8,-27.6],[48.5,-27.6],[12.1,-27.6],[18.6,-27.6],[35.8,-28.6],[5.6,-29],[15.7,-29.5],[23.4,-29.9],[28.7,-29.9],[41.2,-30],[9.7,-30],[1.4,-31],[59,-31.4],[13.3,-31.8],[16.9,-32.3],[35.8,-31.8],[45.3,-32.3],[48.9,-31.8],[40.6,-32.8],[74.7,-32.8],[29.9,-33.2],[25.1,-34.2],[50.1,-34.2],[43.5,-34.2],[10.3,-34.6],[2.3,-34.8],[61.7,-34.8],[97.3,-34.8],[13.9,-35.6],[114.6,-35.9],[35.8,-35.1],[46.5,-35.6],[51.3,-35.1],[22.8,-36.8],[27.5,-37],[33.5,-36.8],[37.9,-37],[6.2,-37.4],[18.4,-37.4],[44.7,-37.9],[58.4,-37.4],[85,-37.4],[12.1,-39.1],[49.5,-38.4],[3.2,-39.3],[23.4,-39.8],[53.6,-39.8],[0.2,-40.2],[35.8,-40.7],[33.5,-40.9],[18,-40.9],[27.5,-41.2],[43.5,-41.6],[48.9,-40.9],[62.8,-41],[16.3,-41.6],[56,-41.6],[0.5,-42.6],[29.9,-43],[45.3,-43],[88,-42.9],[77.3,-43.5],[10.3,-43.5],[51.3,-42.6],[35.8,-43.5],[57.2,-43.5],[0.2,-44.4],[3.2,-44],[13.3,-44.4],[101.4,-44.4],[42.3,-44.4],[22.8,-44.4],[17.4,-45.4],[86.8,-45.4],[59.5,-44],[50,-45.4],[0.2,-46.3],[3.2,-46.3],[26.3,-45.8],[56,-47.2],[35.8,-46.8],[40.6,-47.2],[29,-46.8],[63.1,-46.3],[33.5,-47.2],[71.2,-47.1],[74.4,-47.1],[83,-47.2],[14.5,-48.7],[22.8,-48.2],[47.1,-48.7],[64.3,-48.7],[102.6,-49.3],[37,-50],[9.7,-50.3],[3.8,-50.3],[0.2,-51],[29.9,-50.5],[33.5,-51],[23.4,-51],[25.7,-51.5],[48.3,-49.6],[58.4,-51],[60.7,-50.5],[66,-50],[68.8,-51],[73.2,-51.7],[43.5,-51.7],[53.3,-52.4],[64.3,-52.8],[34,-53.3],[41.2,-53.6],[20.4,-53.3],[16.8,-53.8],[62.3,-54.2],[110.3,-54],[71.4,-54.2],[46.5,-55.2],[57.2,-54.7],[13.3,-54.7],[29.3,-54.7],[20.4,-55.7],[73.8,-55.7],[9.7,-56.8],[38.8,-56.6],[48.3,-56.6],[81.5,-56.4],[32.3,-57],[51.3,-57],[22.5,-57.5],[42.7,-57.7],[46.5,-57.5],[75.6,-57.5],[4.5,-58.2],[34.9,-58.3],[66.4,-58.3],[69,-58.3],[29.9,-58.5],[56.6,-58.5],[77.3,-58.9],[10.7,-59.6],[14.5,-59.4],[19,-59.4],[38.8,-59.9],[56,-60.5],[57.8,-60.8],[79.7,-60.3],[24.2,-61.7],[29.5,-61.7],[37,-61.7],[44.9,-61.4],[82.1,-60.5],[78.5,-61.7],[102.5,-62.2],[15.7,-62.8],[19.8,-63.1],[47.7,-63.1],[49.5,-63.4],[40,-63.1],[85.7,-63.1],[9.7,-63.9],[5,-63.9],[3.8,-65],[32.9,-64],[85.4,-64.2],[73.2,-64],[21.6,-65.2],[63.7,-65.2],[67.5,-65.7],[52.2,-65.5],[80.3,-65.5],[42.3,-65.9],[91.9,-65.9],[82.1,-65.9],[33.5,-67.3],[72,-67.3],[11.9,-67.3],[38.8,-67.3],[46.5,-67.3],[28.1,-67.3],[59.5,-67.8],[21.2,-68.3],[37.6,-68.7],[78.5,-68.4],[24.9,-69.2],[61.9,-69.4],[86.2,-69.8],[89.2,-70],[94,-69.7],[49.1,-69.7],[41.2,-71],[76.8,-71.2],[64.3,-70.8],[66.7,-72],[92.2,-72],[49.6,-72.9],[58.4,-72.5],[43.5,-73.6],[37.6,-72.6],[26,-72.9],[98.1,-72.9],[71.7,-73.6],[95.1,-73.9],[59.2,-73.9],[18.3,-74.6],[87.4,-74.8],[80.1,-75.1],[101.7,-75.1],[105.2,-75.1],[35.5,-75.5],[92.8,-75.7],[96.3,-75.7],[98.7,-77.1],[58,-77.4],[66.1,-77.6],[46.9,-77.7],[84.8,-77.8],[92.2,-78],[26.1,-78.5],[38.8,-78.5],[63.7,-79],[23.4,-79.7],[105.8,-79.8],[91.8,-79.7],[60.2,-80.4],[41.2,-80.4],[108.2,-80.9],[56.9,-80.4],[70.5,-80.9],[126.6,-80.9],[104.6,-81.8],[55.3,-82.5],[37,-82.4],[101,-82.5],[16.6,-82.9],[114,-83.4],[84.8,-83.4],[67.9,-84.4],[102.8,-84.8],[26.6,-85.5],[118.3,-85.7],[86.8,-86],[69,-86.3],[59,-86],[98.7,-86.5],[30.7,-87.1],[114.7,-87.4],[78.5,-87.6],[94,-88.3],[101,-88.8],[108.4,-88.5],[111.8,-88.5],[117,-88.8],[124.6,-89.4],[91,-89.7],[115.9,-90.7],[68.4,-90.7],[85.6,-91.1],[104.6,-91.1],[55.4,-92.5],[106.4,-93],[123.8,-92.8],[71.6,-93.3],[59.5,-93.3],[61.9,-93.3],[111.2,-93.2],[100.5,-94.9],[102.5,-95.5],[118.3,-94.9],[120.6,-94.9],[110.6,-95.6],[113.5,-96.3],[55.3,-96],[123.8,-97.4],[75.3,-97.9],[91.6,-98.4],[115,-100],[83.6,-100.5],[132.3,-99],[72.6,-101],[127.8,-101.9],[132,-101.4],[136.4,-103],[121.2,-103.5],[118.9,-104.2],[130.7,-103.3],[133.7,-105.1],[127.2,-106.1],[104.3,-105.6],[113.5,-105.6],[101.7,-107.2],[111.4,-107.2],[130.1,-107],[126.6,-108.4],[116.1,-109],[137.6,-108.9],[122.4,-109.8],[85.2,-110.9],[98.8,-110.9],[136,-111.2],[147,-111.7],[140.8,-112.1],[113.5,-112.9],[140,-113.4],[109.6,-115],[133.9,-114.9],[148.5,-114.9],[151.7,-116.3],[136.1,-117.3],[105.5,-117.3],[140.8,-117.3],[156.5,-118],[145.9,-119.6],[139,-120.3],[126.6,-120.3],[128.6,-120.3],[149.1,-120.3],[151.7,-121],[150.1,-125.9],[167.5,-127.3],[161.2,-128.5],[153.9,-128.8],[152.1,-129.6],[165.7,-130.3],[172.2,-132],[156.1,-132.2],[154.7,-132.9],[167.9,-133.1],[163.7,-134.7],[177,-140.3],[178.4,-140.3],
[2,-7],[4,-9],[6,-8],[8,-10],[10,-7],[12,-10],[14,-7],[16,-9],[18,-12],[20,-9],[22,-8],[3,-12],[6,-11],[9,-12],[11,-14],[13,-13],[15,-12],[17,-15],[19,-14],[21,-13],[23,-15],[8,-16],[10,-18],[12,-17],[14,-19],[16,-21],[18,-19],[20,-18],[22,-22],[24,-20],[8,-22],[10,-24],[12,-22],[14,-24],[16,-26],[18,-25],[20,-24],[24,-25],[26,-27],[28,-26],[30,-28],[32,-30],[34,-28],[36,-27],[36,-33],[34,-36],[30,-35],[26,-37],[14,-27],[17,-30],[34,-22],[38,-29],
[22,-34],[26,-31],[30,-32],[33,-31],[38,-37],[42,-36],[44,-40],[47,-38],[30,-39],[24,-41],[20,-44],[38,-42],[28,-48],[26,-52],[44,-47],[42,-51],[52,-46],[54,-44],[62,-49],[70,-56],[73,-58],[77,-60],[80,-62]];

// Where each panel sits on the page, all in page pixels.
const panels = [
  { name: 'a', points: aPoints, xTicks: aXTicks, yTicks: aYTicks, xMin: -150, xMax: 150, yMin: -150, yMax: 150,
    box: [28, 37, 1660, 1508], area: [119, 160, 1604, 1481],
    bLabel: [878, 92], aLabel: [1620, 741], caption: [854, 1621] },
  { name: 'b', points: bPoints, xTicks: bXTicks, yTicks: bYTicks, xMin: -200, xMax: 200, yMin: -150, yMax: 150,
    box: [2203, 37, 1664, 1508], area: [2294, 180, 3780, 1508],
    bLabel: [3045, 92], aLabel: [3768, 773], caption: [3035, 1621] },
  { name: 'c', points: cPoints, xTicks: cXTicks, yTicks: cYTicks, xMin: -190, xMax: 180, yMin: -100, yMax: 100,
    box: [28, 1676, 1660, 1509], area: [119, 1799, 1604, 3122],
    bLabel: [884, 1729], aLabel: [1546, 2384], caption: [854, 3272] },
  { name: 'd', points: dPoints, xTicks: dXTicks, yTicks: dYTicks, xMin: -170, xMax: 180, yMin: -160, yMax: 150,
    box: [2208, 1678, 1662, 1509], area: [2297, 1788, 3784, 3122],
    bLabel: [3040, 1732], aLabel: [3736, 2362], caption: [3035, 3269] },
];

const POINT_COLOR = '#0071BF';
const SERIF = '"Liberation Serif", serif';
const TICK_SIZE = 57;
const LABEL_SIZE = 55;
const CAPTION_SIZE = 80;
const BORDER = 5;
// y tick labels stop this far left of the vertical axis
const Y_LABEL_GAP = 52;
const X_LABEL_PADDING = 40;

const page = document.getElementById('page');

function addLabel(text, pos, size, html) {
  const el = document.createElement('div');
  el.className = 'lbl';
  el.style.left = pos[0] + 'px';
  el.style.top = pos[1] + 'px';
  el.style.fontSize = size + 'px';
  if (html) el.innerHTML = text;
  else el.textContent = text;
  page.appendChild(el);
}

function drawPanel(p) {
  const [bx, by, bw, bh] = p.box;
  const [left, top, right, bottom] = p.area;

  const boxEl = document.createElement('div');
  boxEl.className = 'box';
  boxEl.style.left = bx + 'px';
  boxEl.style.top = by + 'px';
  boxEl.style.width = bw + 'px';
  boxEl.style.height = bh + 'px';
  page.appendChild(boxEl);

  const canvas = document.createElement('canvas');
  canvas.width = bw - BORDER * 2;
  canvas.height = bh - BORDER * 2;
  boxEl.appendChild(canvas);

  // the canvas starts inside the border
  const originX = bx + BORDER;
  const originY = by + BORDER;
  const gapInUnits = Y_LABEL_GAP * (p.xMax - p.xMin) / (right - left);

  new Chart(canvas, {
    type: 'scatter',
    data: {
      datasets: [{
        data: p.points.map((pt) => ({ x: pt[0], y: pt[1] })),
        backgroundColor: POINT_COLOR,
        borderColor: POINT_COLOR,
        borderWidth: 0,
        pointRadius: 8,
        clip: false,
      }],
    },
    options: {
      responsive: false,
      animation: false,
      devicePixelRatio: 1,
      layout: {
        padding: {
          left: left - originX,
          top: top - originY,
          right: canvas.width - (right - originX),
          bottom: canvas.height - (bottom - originY),
        },
      },
      plugins: { legend: { display: false }, tooltip: { enabled: false } },
      scales: {
        x: {
          type: 'linear',
          min: p.xMin,
          max: p.xMax,
          position: { y: 0 },
          grid: { display: false, drawTicks: false },
          border: { display: true, color: '#000', width: 4 },
          afterBuildTicks: (scale) => { scale.ticks = p.xTicks.map((v) => ({ value: v })); },
          ticks: {
            z: 1,
            color: '#000',
            font: { family: SERIF, size: TICK_SIZE },
            padding: X_LABEL_PADDING,
            maxRotation: 0,
            minRotation: 0,
            autoSkip: false,
            callback: (v) => String(v),
          },
        },
        // Tick labels for b*. Chart.js ignores tick padding on a y axis placed
        // by value, so this one sits left of zero and its own line is hidden.
        y: {
          type: 'linear',
          min: p.yMin,
          max: p.yMax,
          position: { x: -gapInUnits },
          grid: { display: false, drawTicks: false },
          border: { display: false },
          afterBuildTicks: (scale) => { scale.ticks = p.yTicks.map((v) => ({ value: v })); },
          ticks: {
            z: 1,
            color: '#000',
            font: { family: SERIF, size: TICK_SIZE },
            padding: 0,
            autoSkip: false,
            callback: (v) => String(v),
          },
        },
        // The visible vertical axis line at a* = 0.
        yLine: {
          type: 'linear',
          min: p.yMin,
          max: p.yMax,
          position: { x: 0 },
          grid: { display: false, drawTicks: false },
          border: { display: true, color: '#000', width: 4 },
          ticks: { display: false },
        },
      },
    },
  });

  addLabel('+b*', p.bLabel, LABEL_SIZE);
  addLabel('+a*', p.aLabel, LABEL_SIZE);
  addLabel('(<b>' + p.name + '</b>)', p.caption, CAPTION_SIZE, true);
}

panels.forEach(drawPanel);
</script>
</body>
</html>
